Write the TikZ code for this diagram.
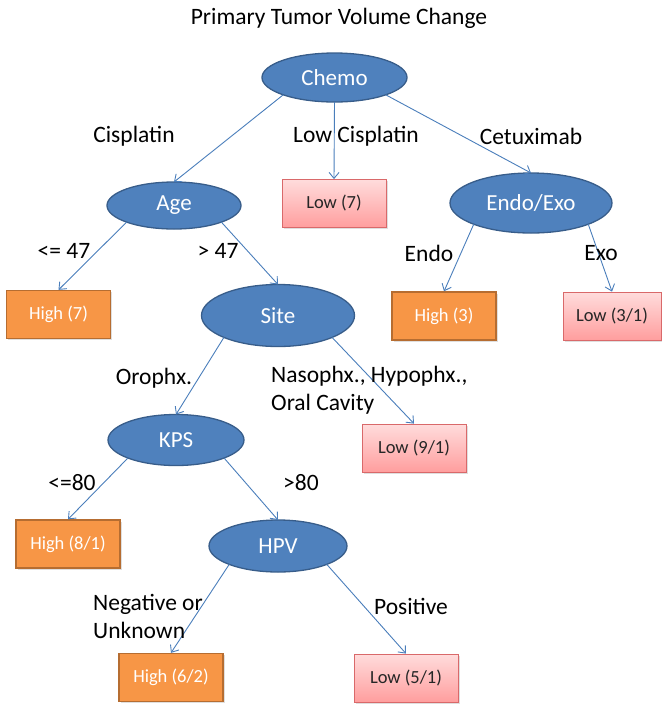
\documentclass[tikz,border=0pt]{standalone}
\usepackage{fontspec}
\setmainfont{Carlito}
\usetikzlibrary{arrows.meta,shadows,shapes.geometric}
\definecolor{ellfill}{HTML}{4F81BD}
\definecolor{elldraw}{HTML}{385D8A}
\definecolor{orfill}{HTML}{F79646}
\definecolor{ordraw}{HTML}{B66D31}
\definecolor{pktop}{HTML}{FFDCDC}
\definecolor{pkbot}{HTML}{FF9E9E}
\definecolor{pkdraw}{HTML}{D9696A}
\definecolor{arr}{HTML}{4A7EBB}
\tikzset{
  ell/.style={ellipse,draw=elldraw,line width=1.3pt,fill=ellfill,text=white,
    font=\fontsize{23}{26}\selectfont,inner sep=0pt,outer sep=0pt},
  hibox/.style={rectangle,draw=ordraw,line width=1.3pt,fill=orfill,text=white,
    font=\fontsize{18.5}{21}\selectfont,minimum width=104pt,minimum height=48pt,
    drop shadow={shadow xshift=1.5pt,shadow yshift=-1.5pt,opacity=0.25}},
  lobox/.style={rectangle,draw=pkdraw,line width=0.8pt,top color=pktop,bottom color=pkbot,
    text=black!85,font=\fontsize{18.5}{21}\selectfont,minimum width=104pt,minimum height=48pt,
    drop shadow={shadow xshift=1.5pt,shadow yshift=-1.5pt,opacity=0.25}},
  lbl/.style={font=\fontsize{23.5}{28}\selectfont,text=black,inner sep=0pt},
  conn/.style={draw=arr,line width=0.9pt,-{Straight Barb[length=6pt,width=10pt]}}
}
\begin{document}
\begin{tikzpicture}[x=1pt,y=-1pt]
\useasboundingbox (0,0) rectangle (662,705);
\node[lbl] (title) at (339,18) {Primary Tumor Volume Change};
% ellipses
\node[ell,minimum width=145pt,minimum height=49pt] (chemo) at (334.5,77.5) {Chemo};
\node[ell,minimum width=134pt,minimum height=47pt] (age) at (174,205.5) {Age};
\node[ell,minimum width=162pt,minimum height=60pt] (endo) at (531,203) {Endo/Exo};
\node[ell,minimum width=153pt,minimum height=62pt] (site) at (278,315.5) {Site};
\node[ell,minimum width=136pt,minimum height=51pt] (kps) at (176,440) {KPS};
\node[ell,minimum width=138pt,minimum height=52pt] (hpv) at (278,546) {HPV};
% boxes
\node[lobox] (low7) at (334,203.5) {Low (7)};
\node[hibox] (high7) at (58.5,314.5) {High (7)};
\node[hibox] (high3) at (444,316) {High (3)};
\node[lobox,minimum width=98pt] (low31) at (612,316) {Low (3/1)};
\node[lobox] (low91) at (414,448) {Low (9/1)};
\node[hibox] (high81) at (68,544) {High (8/1)};
\node[hibox] (high62) at (171,677.5) {High (6/2)};
\node[lobox] (low51) at (406,678) {Low (5/1)};
% connectors
\draw[conn] (chemo.south west) -- (age.north);
\draw[conn] (chemo.south) -- (low7.north);
\draw[conn] (chemo.south east) -- (endo.north);
\draw[conn] (age.south west) -- (high7.north);
\draw[conn] (age.south east) -- (site.north);
\draw[conn] (endo.south west) -- (high3.north);
\draw[conn] (endo.south east) -- (low31.north);
\draw[conn] (site.south west) -- (kps.north);
\draw[conn] (site.south east) -- (low91.north);
\draw[conn] (kps.south west) -- (high81.north);
\draw[conn] (kps.south east) -- (hpv.north);
\draw[conn] (hpv.south west) -- (high62.north);
\draw[conn] (hpv.south east) -- (low51.north);
% labels
\node[lbl] (l1) at (134,136) {Cisplatin};
\node[lbl] (l2) at (356,136) {Low Cisplatin};
\node[lbl] (l3) at (531,136) {Cetuximab};
\node[lbl] (l4) at (64,251) {<= 47};
\node[lbl] (l5) at (218,251) {> 47};
\node[lbl] (l6) at (429,253) {Endo};
\node[lbl] (l7) at (601,253) {Exo};
\node[lbl] (l8) at (154,378) {Orophx.};
\node[lbl,anchor=west,align=left] (l9) at (271,390) {Nasophx., Hypophx.,\\Oral Cavity};
\node[lbl] (l10) at (72,483) {<=80};
\node[lbl] (l11) at (301,483) {>80};
\node[lbl,anchor=west,align=left] (l12) at (93,616) {Negative or\\Unknown};
\node[lbl] (l13) at (411,606) {Positive};
\end{tikzpicture}
\end{document}
